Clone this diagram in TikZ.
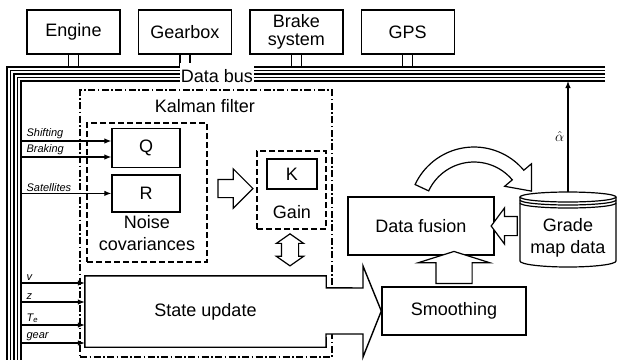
\documentclass[tikz,border=0pt]{standalone}
\usepackage{fontspec}
\setmainfont{Liberation Sans}
\usetikzlibrary{arrows.meta,calc,positioning,shapes.arrows}

\begin{document}
\begin{tikzpicture}[
  x=1pt, y=1pt,
  font=\fontsize{18}{20}\selectfont,
  box/.style={draw, line width=1.4pt, align=center, inner sep=1pt},
  unit/.style={box, minimum width=93pt, minimum height=44pt},
  kf/.style={draw, line width=1.7pt, dash pattern=on 7pt off 2.5pt on 1.5pt off 2.5pt},
  grp/.style={draw, line width=1.7pt, dash pattern=on 6pt off 3pt},
  arr/.style={-{Latex[length=7pt,width=5.5pt]}, line width=1.1pt},
  sig/.style={font=\fontsize{11}{13}\selectfont\itshape, inner xsep=5pt, inner ysep=1.5pt, anchor=south west},
  bus/.style={line width=1.3pt},
  fat/.style={draw, line width=1.2pt, fill=white, inner xsep=0pt}
]
\useasboundingbox (0,0) rectangle (619,-360);

% units on the bus
\node[unit] (engine) at (73.5,-32) {Engine};
\node[unit, right=17pt of engine] (gearbox) {Gearbox};
\node[unit, right=17pt of gearbox, font=\fontsize{18}{18.5}\selectfont] (brake) {Brake\\system};
\node[unit, right=17pt of brake] (gps) {GPS};

% data bus
\foreach \i in {0,...,4}
  \draw[bus] (605,{-67-3.5*\i}) -| ({7+3.5*\i},-360);
\coordinate (bus) at (21,-81);
\foreach \u in {engine,gearbox,brake,gps}
  \draw[line width=1.3pt] ([xshift=-5pt]\u.south) -- ++(0,-13) ([xshift=5pt]\u.south) -- ++(0,-13);
\node[fill=white, inner xsep=1pt, minimum height=26pt] (buslbl) at (217,-75.6) {Data bus};

% Kalman filter
\node[kf, minimum width=252pt, minimum height=267pt] (kalman) at (206,-223.5) {};
\node (kflbl) at (205,-106.5) {Kalman filter};
\node[grp, minimum width=120pt, minimum height=139pt] (noise) at (147,-192.5) {};
\node[box, minimum width=68pt, minimum height=39pt] (q) at (146,-148) {Q};
\node[box, minimum width=68pt, minimum height=37pt, below=6pt of q] (r) {R};
\node[align=center, font=\fontsize{18}{22}\selectfont] (noiselbl) at (147,-233) {Noise\\covariances};
\node[grp, minimum width=69pt, minimum height=78pt] (gain) at (291.5,-190) {};
\node[box, minimum width=50pt, minimum height=30pt] (k) at (292,-174) {K};
\node (gainlbl) at (292,-212) {Gain};
\node[fat, single arrow, single arrow head indent=0pt, minimum height=35pt, minimum width=38pt,
  inner ysep=8.5pt, single arrow head extend=10.5pt, single arrow tip angle=90] (tok) at ($(noise.east)+(23,4)$) {};

% state update and its output
\node[box, minimum width=144pt, minimum height=48pt] (smooth) at (454,-311) {Smoothing};
\node[minimum width=241pt, minimum height=71pt, inner sep=0pt] (su) at (205.5,-311.5) {};
\draw[line width=1.4pt, fill=white] (su.north west) -- (su.north east) -- ++(0,-12) -- (363,-288) -- (363,-266)
  -- (smooth.west) -- (363,-357) -- (363,-334) -- (326,-334) -- (su.south east) -- (su.south west) -- cycle;
\node (sulbl) at (su) {State update};
\node[fat, double arrow, rotate=90, double arrow head indent=0pt, minimum height=32pt, minimum width=26pt,
  inner ysep=8pt, double arrow head extend=5pt, double arrow tip angle=110] (link) at ($(gain.south)+(-1.5,-20)$) {};

% inputs
\coordinate (inshift) at ([yshift=7pt]q.west);
\coordinate (inbrake) at ([yshift=-9pt]q.west);
\coordinate (insat) at (r.west);
\draw[arr] (bus |- inshift) -- node[sig, pos=0] {Shifting} (inshift);
\draw[arr] (bus |- inbrake) -- node[sig, pos=0] {Braking} (inbrake);
\draw[arr] (bus |- insat) -- node[sig, pos=0] {Satellites} (insat);
\coordinate (inv) at ([yshift=28.5pt]su.west);
\coordinate (inz) at ([yshift=9.5pt]su.west);
\coordinate (inte) at ([yshift=-13.5pt]su.west);
\coordinate (ingear) at ([yshift=-31.5pt]su.west);
\draw[arr] (bus |- inv) -- node[sig, pos=0] {v} (inv);
\draw[arr] (bus |- inz) -- node[sig, pos=0] {z} (inz);
\draw[arr] (bus |- inte) -- node[sig, pos=0] {T\textsubscript{e}} (inte);
\draw[arr] (bus |- ingear) -- node[sig, pos=0] {gear} (ingear);

% fusion with the map
\node[box, minimum width=146pt, minimum height=58pt] (fusion) at (421,-226) {Data fusion};
\node[align=center, font=\fontsize{18}{22}\selectfont, minimum width=96pt] (map) at (568,-238) {Grade\\map data};
\draw[line width=1.2pt] (568,-197) ellipse [x radius=48, y radius=5];
\draw[line width=1.2pt] (520,-200) arc[start angle=180, end angle=360, x radius=48, y radius=5];
\draw[line width=1.2pt] (520,-203) arc[start angle=180, end angle=360, x radius=48, y radius=5];
\draw[line width=1.2pt] (520,-197) -- (520,-261) arc[start angle=180, end angle=360, x radius=48, y radius=6] -- (616,-197);
\node[fat, single arrow, rotate=90, single arrow head indent=0pt, minimum height=32pt, minimum width=70pt,
  inner ysep=17.5pt, single arrow head extend=17.5pt, single arrow tip angle=145] (up) at ($(smooth.north)+(0,16)$) {};
\node[fat, single arrow, rotate=180, single arrow head indent=0pt, minimum height=26pt, minimum width=35pt,
  inner ysep=9pt, single arrow head extend=8.5pt, single arrow tip angle=107] (back) at ($(fusion.east)+(13,0)$) {};
\coordinate (arcc) at (474,-212);
\draw[line width=1.2pt, fill=white] ($(arcc)+(155:65)$) arc[start angle=155, end angle=40, radius=65]
  -- ($(arcc)+(40:75)$) -- ($(arcc)+(40:57.5)+(-50:21)$) -- ($(arcc)+(40:40)$)
  -- ($(arcc)+(40:50)$) arc[start angle=40, end angle=155, radius=50] -- cycle;
\coordinate (maptop) at (568,-192);
\draw[arr] (maptop) -- node[left, font=\fontsize{15}{17}\selectfont] {$\hat{\alpha}$} (maptop |- bus);
\end{tikzpicture}
\end{document}
